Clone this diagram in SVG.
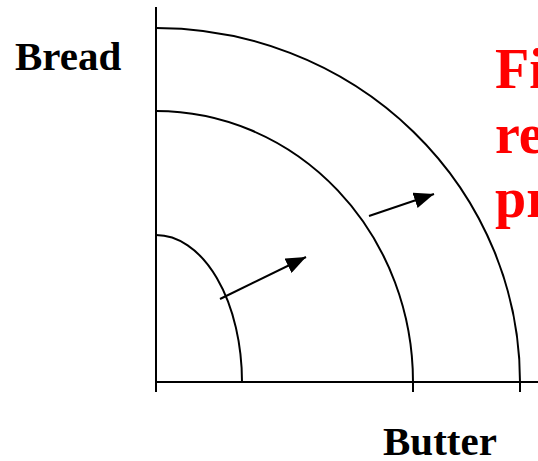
<svg xmlns="http://www.w3.org/2000/svg" width="538" height="461" viewBox="0 0 538 461">
<defs>
<marker id="ah" viewBox="0 0 20 16" refX="20" refY="8" markerWidth="20" markerHeight="16" markerUnits="userSpaceOnUse" orient="auto">
<path d="M0,0 L20,8 L0,16 Z" fill="#000"/>
</marker>
</defs>
<style>
.ln{fill:none;stroke:#000;stroke-width:2}
.lbl{font-family:"Liberation Serif","Times New Roman",serif;font-weight:bold;fill:#000;font-size:41px}
.red{font-family:"Liberation Serif","Times New Roman",serif;font-weight:bold;fill:#ff0000;font-size:56px}
</style>
<rect width="538" height="461" fill="#fff"/>
<g id="axes">
<line class="ln" x1="156" y1="7" x2="156" y2="392"/>
<line class="ln" x1="156" y1="382" x2="538" y2="382"/>
<line class="ln" x1="413" y1="382" x2="413" y2="392"/>
<line class="ln" x1="520" y1="382" x2="520" y2="392"/>
</g>
<g id="curve-inner"><path class="ln" d="M156,235 A86,147 0 0 1 242,382"/></g>
<g id="curve-middle"><path class="ln" d="M156,111 A257,271 0 0 1 413,382"/></g>
<g id="curve-outer"><path class="ln" d="M156,28 A364,354 0 0 1 520,382"/></g>
<g id="connectors">
<line class="ln" x1="220" y1="299" x2="306" y2="257" marker-end="url(#ah)"/>
<line class="ln" x1="369" y1="216" x2="434" y2="194" marker-end="url(#ah)"/>
</g>
<g id="label-bread"><text class="lbl" x="15" y="70">Bread</text></g>
<g id="label-butter"><text class="lbl" x="383" y="455">Butter</text></g>
<g id="label-red">
<text class="red" x="495" y="88">Fi</text>
<text class="red" x="495" y="153">res</text>
<text class="red" x="495" y="217">pr</text>
</g>
</svg>
